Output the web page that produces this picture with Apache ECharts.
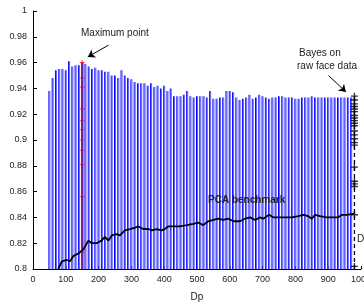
<!DOCTYPE html>
<html>
<head>
<meta charset="utf-8">
<script src="https://cdn.jsdelivr.net/npm/echarts@6/dist/echarts.min.js"></script>
<style>
  html, body { margin: 0; padding: 0; background: #fff; }
  #chart { width: 364px; height: 304px; }
</style>
</head>
<body>
<div id="chart"></div>
<script>
// tick labels
const xTicks = [0, 100, 200, 300, 400, 500, 600, 700, 800, 900, 1000]
const yTicks = [0.8, 0.82, 0.84, 0.86, 0.88, 0.9, 0.92, 0.94, 0.96, 0.98, 1]
// Dp values of the blue stems
const dp = [
  50, 60, 70, 80, 90, 100, 110, 120, 130, 140,
  150, 160, 170, 180, 190, 200, 210, 220, 230, 240,
  250, 260, 270, 280, 290, 300, 310, 320, 330, 340,
  350, 360, 370, 380, 390, 400, 410, 420, 430, 440,
  450, 460, 470, 480, 490, 500, 510, 520, 530, 540,
  550, 560, 570, 580, 590, 600, 610, 620, 630, 640,
  650, 660, 670, 680, 690, 700, 710, 720, 730, 740,
  750, 760, 770, 780, 790, 800, 810, 820, 830, 840,
  850, 860, 870, 880, 890, 900, 910, 920, 930, 940,
  950, 960, 970
]
// top of each stem (best accuracy for that Dp)
const accTop = [
  0.938, 0.948, 0.954, 0.955, 0.955, 0.954, 0.961, 0.957, 0.958, 0.958,
  0.960, 0.959, 0.957, 0.955, 0.956, 0.954, 0.954, 0.953, 0.953, 0.950,
  0.950, 0.948, 0.954, 0.950, 0.948, 0.947, 0.945, 0.944, 0.944, 0.944,
  0.942, 0.944, 0.941, 0.942, 0.940, 0.942, 0.938, 0.940, 0.934, 0.934,
  0.934, 0.935, 0.938, 0.934, 0.933, 0.934, 0.934, 0.934, 0.933, 0.938,
  0.932, 0.932, 0.933, 0.933, 0.938, 0.938, 0.937, 0.933, 0.931, 0.932,
  0.933, 0.935, 0.932, 0.933, 0.935, 0.934, 0.933, 0.932, 0.933, 0.933,
  0.934, 0.934, 0.933, 0.933, 0.933, 0.932, 0.932, 0.933, 0.933, 0.933,
  0.934, 0.933, 0.933, 0.933, 0.933, 0.933, 0.933, 0.933, 0.933, 0.933,
  0.933, 0.933, 0.933
]
// maximum point stem (red)
const maxDp = 150
const maxAcc = [0.960, 0.948, 0.941, 0.924, 0.915, 0.908, 0.900, 0.892, 0.881, 0.856, 0.813]
// Bayes on raw face data
const bayesDp = 980
const bayesAcc = [
  0.934, 0.931, 0.928, 0.926, 0.924, 0.922, 0.919, 0.917, 0.915, 0.913,
  0.911, 0.907, 0.904, 0.901, 0.898, 0.896, 0.879, 0.868, 0.866, 0.864,
  0.842, 0.802
]
// PCA benchmark
const pcaDp = [
  77, 88, 103, 113, 123, 138, 153, 169, 179, 194,
  209, 219, 230, 240, 255, 265, 280, 296, 311, 321,
  336, 352, 362, 377, 392, 402, 412, 428, 448, 469,
  489, 504, 519, 534, 550, 565, 580, 595, 611, 631,
  646, 662, 677, 692, 702, 720, 733, 753, 773, 789,
  809, 824, 839, 850, 860, 875, 895, 916, 931, 941,
  956, 980
]
const pcaAcc = [
  0.800, 0.806, 0.807, 0.806, 0.810, 0.812, 0.815, 0.822, 0.820, 0.820,
  0.822, 0.825, 0.822, 0.826, 0.827, 0.826, 0.830, 0.831, 0.832, 0.833,
  0.831, 0.831, 0.830, 0.831, 0.830, 0.831, 0.833, 0.833, 0.833, 0.834,
  0.835, 0.836, 0.834, 0.837, 0.838, 0.839, 0.838, 0.839, 0.837, 0.837,
  0.839, 0.840, 0.838, 0.840, 0.839, 0.842, 0.840, 0.840, 0.840, 0.840,
  0.841, 0.842, 0.841, 0.839, 0.842, 0.841, 0.840, 0.840, 0.840, 0.842,
  0.842, 0.843
]

const yMin = 0.8
const font = 'Liberation Sans, Arial, sans-serif'
const plus = 'path://M4,0H6V4H10V6H6V10H4V6H0V4H4Z'

const stems = dp.map((d, i) => [d, accTop[i]])

const option = {
  animation: false,
  grid: { left: 33, right: 3, top: 11, bottom: 35, containLabel: false, outerBoundsMode: 'none' },
  xAxis: {
    type: 'value',
    min: 0,
    max: 1000,
    name: 'Dp',
    nameLocation: 'middle',
    nameGap: 23,
    nameTextStyle: { color: '#222', fontSize: 10, fontFamily: font },
    axisLine: { lineStyle: { color: '#000' } },
    axisTick: { inside: true, length: 3, customValues: xTicks, lineStyle: { color: '#000' } },
    axisLabel: {
      color: '#222', fontSize: 9, fontFamily: font, margin: 6, customValues: xTicks,
      showMaxLabel: true, hideOverlap: false,
      formatter: v => String(v)
    },
    splitLine: { show: false }
  },
  yAxis: {
    type: 'value',
    min: yMin,
    max: 1,
    axisLine: { show: true, lineStyle: { color: '#000' } },
    axisTick: { show: true, inside: true, length: 4, customValues: yTicks, lineStyle: { color: '#000' } },
    axisLabel: {
      color: '#222', fontSize: 9, fontFamily: font, margin: 6, customValues: yTicks,
      showMaxLabel: true, hideOverlap: false
    },
    splitLine: { show: false }
  },
  series: [
    {
      type: 'bar',
      data: stems,
      barWidth: 1,
      barGap: '0%',
      itemStyle: { color: '#0000ff' },
      silent: true
    },
    {
      type: 'bar',
      data: stems,
      barWidth: 1,
      itemStyle: { color: '#5c5cff' },
      silent: true
    },
    // 最大值那根
    {
      type: 'line',
      data: [[maxDp, yMin], [maxDp, maxAcc[0]]],
      symbol: 'none',
      lineStyle: { color: '#80208f', width: 2.5 },
      markLine: {
        silent: true,
        symbol: ['none', 'arrow'],
        symbolSize: 7,
        label: { show: false },
        lineStyle: { color: '#000', width: 1, type: 'solid' },
        data: [[{ coord: [230, 0.9735] }, { coord: [167, 0.9644] }]]
      }
    },
    {
      type: 'scatter',
      data: maxAcc.map(v => [maxDp, v]),
      symbol: plus,
      symbolSize: 5,
      itemStyle: { color: '#ff1a1a' }
    },
    {
      type: 'line',
      data: pcaDp.map((d, i) => [d, pcaAcc[i]]),
      symbol: 'none',
      lineStyle: { color: '#000', width: 1.8 }
    },
    // Bayes 虚线
    {
      type: 'line',
      data: [[bayesDp, yMin], [bayesDp, bayesAcc[0]]],
      symbol: 'none',
      lineStyle: { color: '#000', width: 1.3, type: [4, 3] },
      markLine: {
        silent: true,
        symbol: ['none', 'arrow'],
        symbolSize: 7,
        label: { show: false },
        lineStyle: { color: '#000', width: 1, type: 'solid' },
        data: [[{ coord: [901, 0.950] }, { coord: [954, 0.9372] }]]
      }
    },
    {
      type: 'scatter',
      data: bayesAcc.map(v => [bayesDp, v]),
      symbol: plus,
      symbolSize: 7,
      itemStyle: { color: '#000' }
    }
  ],
  graphic: [
    { type: 'text', z: 100, left: 81, top: 28, style: { text: 'Maximum point', font: '10px ' + font, fill: '#222' } },
    { type: 'text', z: 100, left: 299, top: 48, style: { text: 'Bayes on', font: '10px ' + font, fill: '#222' } },
    { type: 'text', z: 100, left: 297, top: 61, style: { text: 'raw face data', font: '10px ' + font, fill: '#222' } },
    { type: 'text', z: 100, left: 208, top: 195, style: { text: 'PCA benchmark', font: 'bold 10px ' + font, fill: '#222' } },
    { type: 'text', z: 100, left: 357, top: 234, style: { text: 'Dd', font: '10px ' + font, fill: '#222' } }
  ]
}

const chart = echarts.init(document.getElementById('chart'))
chart.setOption(option)
</script>
</body>
</html>
